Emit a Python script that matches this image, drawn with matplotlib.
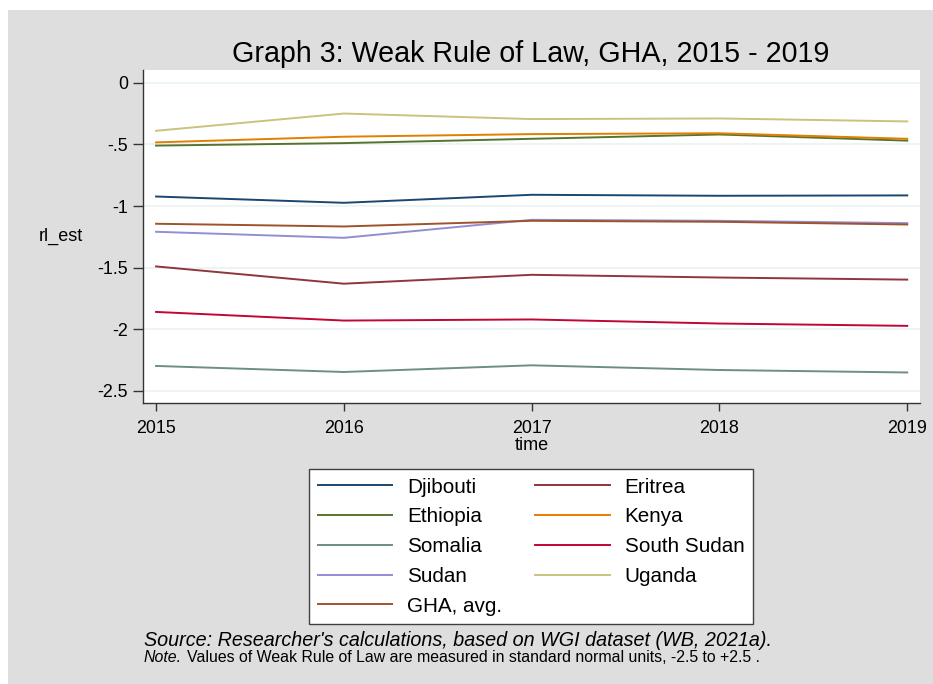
import matplotlib
matplotlib.use("Agg")
import matplotlib.pyplot as plt
from matplotlib.patches import Rectangle

plt.rcParams['font.family'] = ['Liberation Sans', 'DejaVu Sans']

years = [2015, 2016, 2017, 2018, 2019]
countries = ["Djibouti", "Eritrea", "Ethiopia", "Kenya", "Somalia",
             "South Sudan", "Sudan", "Uganda", "GHA, avg."]
djibouti = [-0.923, -0.974, -0.909, -0.917, -0.914]
eritrea = [-1.490, -1.630, -1.558, -1.580, -1.597]
ethiopia = [-0.510, -0.490, -0.455, -0.420, -0.470]
kenya = [-0.484, -0.438, -0.417, -0.410, -0.455]
somalia = [-2.297, -2.346, -2.292, -2.330, -2.350]
south_sudan = [-1.859, -1.929, -1.920, -1.953, -1.972]
sudan = [-1.209, -1.258, -1.112, -1.120, -1.139]
uganda = [-0.390, -0.250, -0.295, -0.290, -0.314]
gha_avg = [-1.144, -1.166, -1.120, -1.128, -1.150]
series = [djibouti, eritrea, ethiopia, kenya, somalia, south_sudan, sudan, uganda, gha_avg]
colors = ["#1a476f", "#90353b", "#55752f", "#e37e00", "#6e8e84",
          "#c10534", "#938dd2", "#cac27e", "#a0522d"]
yticks = [0, -0.5, -1, -1.5, -2, -2.5]
ytick_labels = ["0", "-.5", "-1", "-1.5", "-2", "-2.5"]

W, H = 933, 684
fig = plt.figure(figsize=(W / 100, H / 100), dpi=100)
fig.patch.set_facecolor("white")
fig.add_artist(Rectangle((8 / W, 0), 1, 1 - 10 / H, transform=fig.transFigure,
                         facecolor="#dedede", edgecolor="none", zorder=-10))

ax = fig.add_axes([143.3 / W, 1 - 403.3 / H, (920 - 143.3) / W, (403.3 - 70) / H])
ax.set_facecolor("white")

handles = {}
for name, vals, c in zip(countries, series, colors):
    (ln,) = ax.plot(years, vals, color=c, lw=1.4, solid_joinstyle="miter")
    handles[name] = ln

ax.set_xlim(2014.932, 2019.068)
ax.set_ylim(-2.600, 0.103)
ax.set_xticks(years)
ax.set_xticklabels([str(y) for y in years], fontsize=12.9)
ax.set_yticks(yticks)
ax.set_yticklabels(ytick_labels, fontsize=12.9)
ax.yaxis.grid(True, color="#eaf2f3", lw=1.2)
ax.set_axisbelow(True)
for s in ["top", "right"]:
    ax.spines[s].set_visible(False)
for s in ["left", "bottom"]:
    ax.spines[s].set_color("#333333")
    ax.spines[s].set_linewidth(1.0)
ax.tick_params(axis="y", direction="out", length=7, width=1.0, color="#333333",
               labelcolor="black", pad=4)
ax.tick_params(axis="x", direction="out", length=6, width=1.0, color="#333333",
               labelcolor="black", pad=6)

ax.set_xlabel("time", fontsize=13, labelpad=0)
ax.set_ylabel("rl_est", fontsize=13, rotation=0, va="center", ha="center", labelpad=26)

fig.text(531 / W, 1 - 62 / H, "Graph 3: Weak Rule of Law, GHA, 2015 - 2019",
         fontsize=20.6, ha="center", va="baseline")

order = ["Djibouti", "Ethiopia", "Somalia", "Sudan", "GHA, avg.",
         "Eritrea", "Kenya", "South Sudan", "Uganda"]
leg = fig.legend([handles[n] for n in order], order, ncol=2,
                 loc="upper left", bbox_to_anchor=(309 / W, 1 - 469 / H),
                 fontsize=14.9, frameon=True, fancybox=False, edgecolor="#404040",
                 framealpha=1.0,
                 handlelength=3.6, handletextpad=0.72, columnspacing=1.6,
                 labelspacing=0.52, borderpad=0.42, borderaxespad=0)
leg.get_frame().set_linewidth(1.0)
leg.get_frame().set_facecolor("white")

fig.text(144 / W, 1 - 640 / H,
         "Source: Researcher's calculations, based on WGI dataset (WB, 2021a).",
         fontsize=14.2, style="italic", ha="left", va="center")
fig.text(144 / W, 1 - 658 / H, "Note.", fontsize=11.4, style="italic", ha="left", va="center")
fig.text(187 / W, 1 - 658 / H,
         "Values of Weak Rule of Law are measured in standard normal units, -2.5 to +2.5 .",
         fontsize=11.4, ha="left", va="center")

fig.savefig("out.png", dpi=100)
